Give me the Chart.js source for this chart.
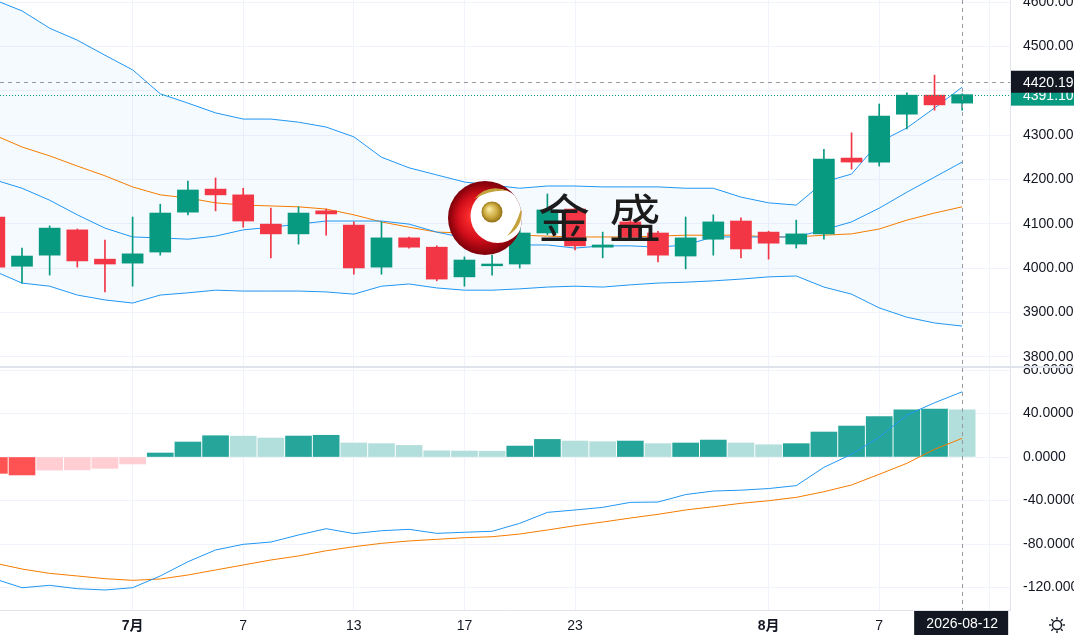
<!DOCTYPE html>
<html>
<head>
<meta charset="utf-8">
<script src="https://cdn.jsdelivr.net/npm/chart.js"></script>
<style>
  html, body { margin: 0; padding: 0; background: #fff; overflow: hidden; }
  canvas { display: block; }
</style>
</head>
<body>
<canvas id="chart" width="1074" height="635"></canvas>
<script>
// ---- data (daily candles, 2026-06-24 .. 2026-08-12) ----
const dates = [
  '2026-06-24', '2026-06-25', '2026-06-26', '2026-06-29', '2026-06-30',
  '2026-07-01', '2026-07-02', '2026-07-03', '2026-07-06', '2026-07-07',
  '2026-07-08', '2026-07-09', '2026-07-10', '2026-07-13', '2026-07-14',
  '2026-07-15', '2026-07-16', '2026-07-17', '2026-07-20', '2026-07-21',
  '2026-07-22', '2026-07-23', '2026-07-24', '2026-07-27', '2026-07-28',
  '2026-07-29', '2026-07-30', '2026-07-31', '2026-08-03', '2026-08-04',
  '2026-08-05', '2026-08-06', '2026-08-07', '2026-08-10', '2026-08-11',
  '2026-08-12'
];
const opens  = [4115, 4004, 4029, 4086, 4020, 4011, 4036, 4126, 4178, 4165, 4099, 4077, 4129, 4097, 4002, 4068, 4047, 3980, 4005, 4009, 4079, 4133, 4047, 4104, 4079, 4027, 4065, 4106, 4081, 4054, 4077, 4248, 4239, 4347, 4390, 4372];
const highs  = [4125, 4045, 4095, 4088, 4063, 4115, 4144, 4196, 4203, 4180, 4135, 4138, 4133, 4104, 4104, 4070, 4050, 4025, 4029, 4090, 4167, 4142, 4081, 4110, 4083, 4115, 4120, 4113, 4083, 4108, 4268, 4305, 4370, 4395, 4435, 4393];
const lows   = [3992, 3966, 3984, 4002, 3946, 3959, 4029, 4120, 4129, 4092, 4023, 4054, 4074, 3986, 3986, 4045, 3971, 3959, 3984, 4000, 4075, 4041, 4023, 4063, 4014, 3998, 4029, 4023, 4020, 4045, 4065, 4223, 4230, 4314, 4356, 4356];
const closes = [4002, 4027, 4090, 4016, 4009, 4032, 4124, 4176, 4165, 4106, 4077, 4124, 4122, 4000, 4068, 4047, 3975, 4018, 4009, 4079, 4131, 4050, 4052, 4070, 4029, 4068, 4104, 4043, 4056, 4077, 4246, 4239, 4343, 4390, 4368, 4391.10];

// Bollinger bands + short moving average
const bbUpper = [4605, 4580, 4541, 4514, 4480, 4447, 4393, 4372, 4350, 4336, 4336, 4329, 4318, 4296, 4250, 4226, 4210, 4194, 4187, 4180, 4185, 4185, 4183, 4183, 4183, 4180, 4180, 4160, 4147, 4142, 4194, 4212, 4284, 4316, 4361, 4408];
const bbBasis = [4300, 4273, 4253, 4230, 4208, 4183, 4165, 4158, 4147, 4142, 4140, 4138, 4133, 4120, 4104, 4092, 4081, 4079, 4077, 4074, 4072, 4070, 4070, 4070, 4072, 4074, 4074, 4074, 4070, 4070, 4074, 4077, 4088, 4108, 4124, 4138];
const bbLower = [3993, 3966, 3959, 3939, 3928, 3921, 3939, 3944, 3950, 3948, 3948, 3948, 3946, 3941, 3959, 3964, 3955, 3950, 3950, 3953, 3957, 3959, 3957, 3962, 3966, 3968, 3971, 3975, 3980, 3982, 3957, 3941, 3910, 3889, 3876, 3869];
const maLine  = [4199, 4180, 4153, 4120, 4090, 4070, 4068, 4065, 4072, 4086, 4092, 4099, 4106, 4106, 4106, 4099, 4081, 4068, 4059, 4052, 4052, 4045, 4050, 4050, 4047, 4052, 4070, 4070, 4070, 4070, 4086, 4104, 4135, 4171, 4205, 4239];

// MACD
const macdHist   = [-15, -16.5, -12, -11.8, -10.4, -6.4, 3.7, 13.8, 19.6, 19.2, 17.5, 19.3, 20, 12.9, 12.3, 10.7, 5.7, 5.5, 5.3, 10.1, 16.2, 14.7, 14.1, 14.7, 12.3, 12.9, 15.6, 12.9, 11.3, 12.3, 23, 28.5, 37.1, 43.5, 44.1, 43.5];
const macdLine   = [-112, -120.2, -118, -121.1, -122.3, -120.2, -109.4, -96.3, -85.5, -80.3, -78.2, -71.7, -65.9, -70.4, -67.8, -66.5, -70.2, -69.2, -68.3, -61, -50.9, -48.7, -46.3, -41.7, -41.4, -34.5, -31.3, -30.5, -29, -26.3, -9.5, 2.5, 18.2, 38.6, 49.9, 60];
const macdSignal = [-97.5, -103, -107, -109.4, -111.9, -113.4, -112.2, -108.5, -103.9, -99.3, -94.7, -91, -86.2, -82.5, -79.4, -77.2, -75.7, -74.2, -73.3, -70.8, -67.1, -63.2, -59.8, -56.1, -52.7, -48.7, -45.7, -42.6, -40.2, -37.1, -31.9, -25.7, -15.9, -5.8, 7.1, 17.2];

// ticks
const priceTicks = [3800, 3900, 4000, 4100, 4200, 4300, 4400, 4500, 4600];
const macdTicks = [-120, -80, -40, 0, 40, 80];
const xTickPos = [5, 9, 13, 17, 21, 28, 32, 36];
const xTickLabels = ['7月', '7', '13', '17', '23', '8月', '7', '13'];

const crosshairIdx = 35;
const crosshairPrice = 4420.19;

// ---- styles ----
const UP = '#089981', DOWN = '#f23645';
const BLUE = '#2196f3', ORANGE = '#f57c00';
const GRID = '#f0f3fa', BORDER = '#e0e3eb', TEXT = '#131722';
const FONT = '"Liberation Sans", "Noto Sans CJK SC", sans-serif';

const candleColors = opens.map((o, i) => closes[i] >= o ? UP : DOWN);
const histColors = macdHist.map((v, i) => {
  const prev = i > 0 ? macdHist[i - 1] : v + 1;
  if (v >= 0) return v > prev ? '#26a69a' : '#b2dfdb';
  return v < prev ? '#ff5252' : '#ffcdd2';
});

const pts = arr => arr.map((v, i) => ({ x: i, y: v }));
const lineDs = (label, arr, color, axis) => ({
  type: 'line', label, data: pts(arr), yAxisID: axis,
  borderColor: color, borderWidth: 1, pointRadius: 0, tension: 0, order: 2
});

function drawLogo(ctx, cx, cy, r) {
  ctx.save();
  const g = ctx.createRadialGradient(cx - 12, cy - 2, 3, cx, cy, r);
  g.addColorStop(0, '#ff3030');
  g.addColorStop(0.55, '#d40f1b');
  g.addColorStop(1, '#7c0009');
  ctx.beginPath();
  ctx.arc(cx, cy, r, 0, Math.PI * 2);
  ctx.fillStyle = g;
  ctx.fill();
  ctx.clip();
  ctx.beginPath();
  ctx.arc(cx + 12.5, cy - 2, 27, 0, Math.PI * 2);
  ctx.fillStyle = '#fff';
  ctx.fill();
  ctx.restore();

  ctx.save();
  const bx = cx + 7, by = cy - 6;
  const gb = ctx.createRadialGradient(bx - 3, by - 3, 1, bx, by, 11);
  gb.addColorStop(0, '#f6e79a');
  gb.addColorStop(0.6, '#c9a53a');
  gb.addColorStop(1, '#8a6a14');
  ctx.beginPath();
  ctx.arc(bx, by, 10.5, 0, Math.PI * 2);
  ctx.fillStyle = gb;
  ctx.fill();
  ctx.fillStyle = '#c4a23c';
  ctx.beginPath();
  ctx.moveTo(cx - 11, cy - 19);
  ctx.quadraticCurveTo(cx + 3, cy - 35, cx + 23, cy - 27);
  ctx.quadraticCurveTo(cx + 6, cy - 29, cx - 11, cy - 19);
  ctx.fill();
  ctx.beginPath();
  ctx.moveTo(cx + 22, cy + 18);
  ctx.quadraticCurveTo(cx + 39, cy + 8, cx + 36, cy - 9);
  ctx.quadraticCurveTo(cx + 31, cy + 8, cx + 22, cy + 18);
  ctx.fill();
  ctx.restore();
}

function priceBox(ctx, x, y, w, bg, text) {
  ctx.fillStyle = bg;
  ctx.fillRect(x, y - 11, w, 22);
  ctx.fillStyle = '#fff';
  ctx.font = '14px ' + FONT;
  ctx.textAlign = 'left';
  ctx.textBaseline = 'middle';
  ctx.fillText(text, x + 12, y + 1);
}

const overlay = {
  id: 'overlay',
  afterDatasetsDraw(chart) {
    const ctx = chart.ctx, a = chart.chartArea;
    // watermark
    drawLogo(ctx, 485, 218, 37);
    ctx.save();
    ctx.fillStyle = '#1c1c1c';
    ctx.font = '52px "Noto Sans CJK SC"';
    ctx.textAlign = 'center';
    ctx.textBaseline = 'alphabetic';
    ctx.fillText('金', 564, 238);
    ctx.fillText('盛', 635, 238);
    ctx.restore();

    // last price line + crosshair
    const x = chart.scales.x, y = chart.scales.y;
    ctx.save();
    ctx.lineWidth = 1;
    ctx.strokeStyle = UP;
    ctx.setLineDash([1, 2]);
    const ly = Math.round(y.getPixelForValue(closes[closes.length - 1])) + 0.5;
    ctx.beginPath(); ctx.moveTo(a.left, ly); ctx.lineTo(a.right, ly); ctx.stroke();
    ctx.strokeStyle = '#9598a1';
    ctx.setLineDash([4, 4]);
    const cy = Math.round(y.getPixelForValue(crosshairPrice)) + 0.5;
    ctx.beginPath(); ctx.moveTo(a.left, cy); ctx.lineTo(a.right, cy); ctx.stroke();
    const cx = Math.round(x.getPixelForValue(crosshairIdx)) + 0.5;
    ctx.beginPath(); ctx.moveTo(cx, a.top); ctx.lineTo(cx, a.bottom); ctx.stroke();
    ctx.restore();
  },
  afterDraw(chart) {
    const ctx = chart.ctx, a = chart.chartArea;
    const x = chart.scales.x, y = chart.scales.y, ym = chart.scales.yMacd;
    ctx.save();
    // pane separator
    ctx.strokeStyle = BORDER;
    ctx.lineWidth = 2;
    ctx.beginPath(); ctx.moveTo(0, ym.top); ctx.lineTo(chart.width, ym.top); ctx.stroke();

    // axis price labels
    const last = closes[closes.length - 1];
    priceBox(ctx, a.right + 1, y.getPixelForValue(last), chart.width - a.right, UP, last.toFixed(2));
    priceBox(ctx, a.right + 1, y.getPixelForValue(crosshairPrice), chart.width - a.right, TEXT, crosshairPrice.toFixed(2));

    // date label
    const cx = x.getPixelForValue(crosshairIdx);
    ctx.fillStyle = TEXT;
    ctx.fillRect(cx - 48, a.bottom + 1, 94, chart.height - a.bottom - 1);
    ctx.fillStyle = '#fff';
    ctx.font = '14px ' + FONT;
    ctx.textAlign = 'center';
    ctx.textBaseline = 'middle';
    ctx.fillText(dates[crosshairIdx], cx, a.bottom + 14);

    // settings gear
    const gx = 1057, gy = 625;
    ctx.strokeStyle = TEXT;
    ctx.lineWidth = 1.4;
    ctx.beginPath(); ctx.arc(gx, gy, 4.5, 0, Math.PI * 2); ctx.stroke();
    for (let k = 0; k < 8; k++) {
      const t = k * Math.PI / 4;
      ctx.beginPath();
      ctx.moveTo(gx + Math.cos(t) * 5.5, gy + Math.sin(t) * 5.5);
      ctx.lineTo(gx + Math.cos(t) * 8, gy + Math.sin(t) * 8);
      ctx.stroke();
    }
    ctx.restore();
  }
};

const yAxisFit = s => { s.width = 64; s.paddingTop = 0; s.paddingBottom = 0; };

new Chart(document.getElementById('chart'), {
  data: {
    datasets: [
      { type: 'bar', label: 'body', yAxisID: 'y', order: 0, grouped: false, barThickness: 21,
        data: opens.map((o, i) => ({ x: i, y: [o, closes[i]] })), backgroundColor: candleColors },
      { type: 'bar', label: 'wick', yAxisID: 'y', order: 1, grouped: false, barThickness: 1,
        data: lows.map((l, i) => ({ x: i, y: [l, highs[i]] })), backgroundColor: candleColors },
      Object.assign(lineDs('upper', bbUpper, BLUE, 'y'), { fill: 5, backgroundColor: 'rgba(33,150,243,0.05)' }),
      lineDs('ma', maLine, BLUE, 'y'),
      lineDs('basis', bbBasis, ORANGE, 'y'),
      lineDs('lower', bbLower, BLUE, 'y'),
      { type: 'bar', label: 'hist', yAxisID: 'yMacd', order: 4, grouped: false, barThickness: 26,
        data: pts(macdHist), backgroundColor: histColors },
      lineDs('macd', macdLine, BLUE, 'yMacd'),
      lineDs('signal', macdSignal, ORANGE, 'yMacd')
    ]
  },
  options: {
    responsive: false,
    animation: false,
    events: [],
    layout: { padding: 0 },
    plugins: {
      legend: { display: false },
      tooltip: { enabled: false },
      filler: { drawTime: 'beforeDatasetsDraw' }
    },
    scales: {
      x: {
        type: 'linear', min: 0.2043, max: 36.73, offset: false,
        grid: { color: GRID, drawTicks: false, offset: false },
        border: { color: BORDER },
        ticks: {
          padding: 8, color: TEXT, autoSkip: false, maxRotation: 0,
          font: c => ({ family: FONT, size: 14, weight: (c.tick && String(xTickLabels[xTickPos.indexOf(c.tick.value)]).includes('月')) ? 'bold' : 'normal' }),
          callback: v => xTickLabels[xTickPos.indexOf(v)]
        },
        afterBuildTicks: s => { s.ticks = xTickPos.map(v => ({ value: v })); },
        afterFit: s => { s.height = 25; s.paddingLeft = 0; s.paddingRight = 0; }
      },
      y: {
        type: 'linear', position: 'right', stack: 'panes', stackWeight: 367,
        min: 3776.7, max: 4604.6,
        grid: { color: GRID, drawTicks: false },
        border: { color: BORDER },
        ticks: { padding: 13, color: TEXT, font: { family: FONT, size: 14 }, callback: v => v.toFixed(2) },
        afterBuildTicks: s => { s.ticks = priceTicks.map(v => ({ value: v })); },
        afterFit: yAxisFit
      },
      yMacd: {
        type: 'linear', position: 'right', stack: 'panes', stackWeight: 243,
        min: -140.7, max: 82.8,
        grid: { color: GRID, drawTicks: false },
        border: { color: BORDER },
        ticks: { padding: 13, color: TEXT, font: { family: FONT, size: 14 }, callback: v => v.toFixed(4) },
        afterBuildTicks: s => { s.ticks = macdTicks.map(v => ({ value: v })); },
        afterFit: yAxisFit
      }
    }
  },
  plugins: [overlay]
});
</script>
</body>
</html>
